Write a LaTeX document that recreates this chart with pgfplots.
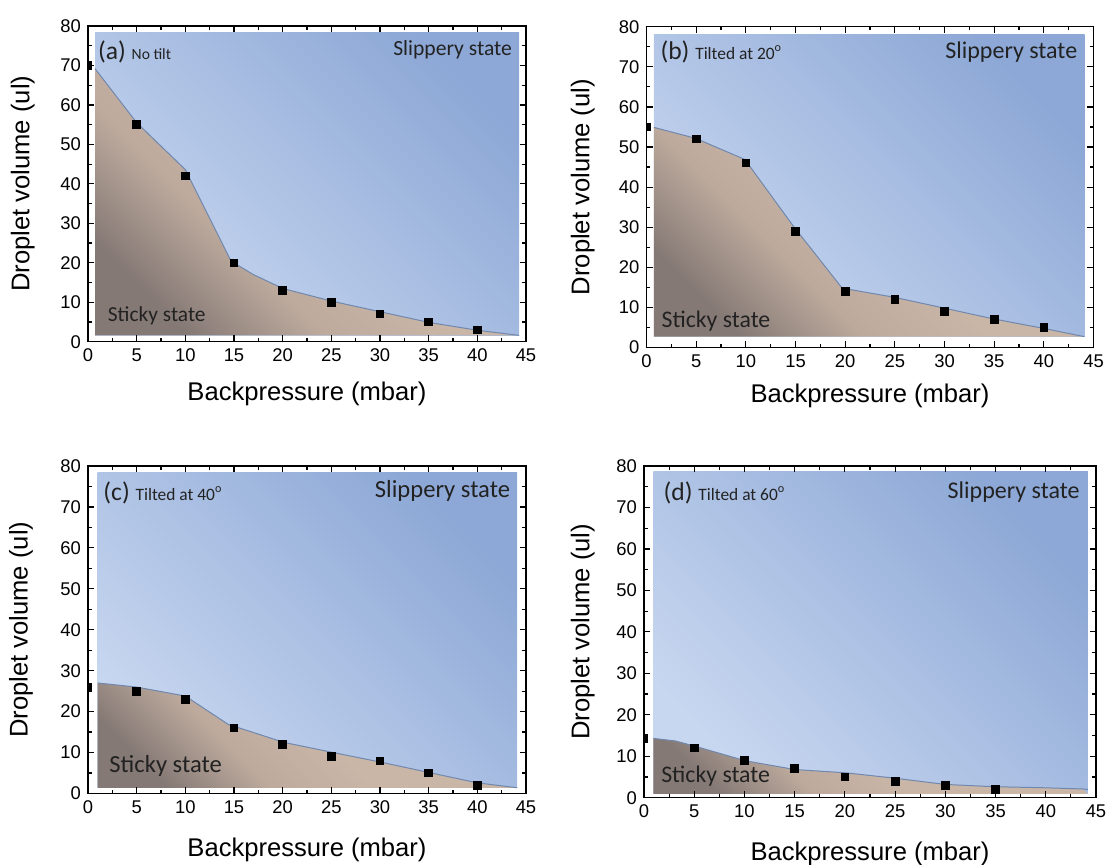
\documentclass[border=0pt]{standalone}
\usepackage{fontspec}
\setmainfont{Liberation Sans}
\newfontfamily\calib{Carlito}
\usepackage{pgfplots}
\pgfplotsset{compat=1.18}
\definecolor{bluelight}{HTML}{C8D7F0}
\definecolor{bluedark}{HTML}{8DA8D6}
\definecolor{tanc}{HTML}{CAB6A7}
\definecolor{tanmid}{HTML}{BDAA9D}
\definecolor{darkbrown}{HTML}{857975}
\definecolor{edgec}{HTML}{7088AE}
\definecolor{txt}{HTML}{222222}
\pgfdeclarehorizontalshading{brownsh}{100bp}{color(0bp)=(darkbrown); color(24bp)=(darkbrown); color(38bp)=(tanmid); color(52bp)=(tanc); color(100bp)=(tanc)}
\pgfplotsset{panel/.style={
  scale only axis, anchor=south west,
  xmin=0,xmax=45,ymin=0,ymax=80,
  xtick={0,5,...,45}, ytick={0,10,...,80},
  minor x tick num=1, minor y tick num=1,
  tick align=inside,
  axis line style={line width=0.7pt},
  major tick length=3.2pt, minor tick length=1.8pt,
  every tick/.append style={line width=0.6pt, black},
  tick label style={font=\fontsize{9.2}{11}\selectfont},
  /pgf/number format/assume math mode=true,
  xlabel={Backpressure (mbar)}, ylabel={Droplet volume (ul)},
  label style={font=\fontsize{12.8}{15}\selectfont, inner sep=0pt},
  clip marker paths=true,
  axis on top,
},
bluebg/.style={draw=none, top color=bluedark, bottom color=bluelight, shading angle=-45},
brownbg/.style={draw=none, shading=brownsh, shading angle=45},
edgeline/.style={edgec, line width=0.5pt, no marks},
pts/.style={only marks, mark=square*, mark size=1.9pt, black},
}
\begin{document}
\begin{tikzpicture}
\useasboundingbox (0,0) rectangle (554.5pt,432pt);
% (a)
\begin{axis}[panel, at={(44pt,261.15pt)}, width=219pt, height=157.85pt,
  xlabel style={at={(axis description cs:0.5,0)}, anchor=north, yshift=-19.7pt},
  ylabel style={at={(axis description cs:-0.121,0.5)}, anchor=south}]
\addplot[bluebg] coordinates {(0.72,1.6) (44.3,1.6) (44.3,78.3) (0.72,78.3)};
\addplot[brownbg] coordinates {(0.72,1.6) (0.72,69.2) (5,55.5) (10,43.6) (14.7,20.4) (17,17) (20,13.5) (25,10.3) (30,7.6) (35,4.9) (40,2.9) (44.3,1.6)};
\addplot[edgeline] coordinates {(0.72,69.2) (5,55.5) (10,43.6) (14.7,20.4) (17,17) (20,13.5) (25,10.3) (30,7.6) (35,4.9) (40,2.9) (44.3,1.6)};
\addplot[pts] coordinates {(0,70) (5,55) (10,42) (15,20) (20,13) (25,10) (30,7) (35,5) (40,3)};
\node[anchor=west, inner sep=0pt, text=txt] at (axis cs:1,73.5) {{\calib\fontsize{12.8}{15}\selectfont (a) \fontsize{7.8}{9}\selectfont No tilt}};
\node[anchor=east, inner sep=0pt, text=txt] at (axis cs:43.6,73.9) {\calib\fontsize{10.8}{12}\selectfont Slippery state};
\node[anchor=west, inner sep=0pt, text=txt] at (axis cs:2.0,6.6) {\calib\fontsize{10.7}{12}\selectfont Sticky state};
\end{axis}
% (b)
\begin{axis}[panel, at={(323.25pt,258.25pt)}, width=223.5pt, height=160.4pt,
  xlabel style={at={(axis description cs:0.5,0)}, anchor=north, yshift=-18pt},
  ylabel style={at={(axis description cs:-0.115,0.5)}, anchor=south}]
\addplot[bluebg] coordinates {(0.74,2.7) (44.1,2.7) (44.1,78.1) (0.74,78.1)};
\addplot[brownbg] coordinates {(0.74,2.7) (0.74,54.9) (4.9,52.2) (9.9,46.9) (14.8,30.2) (19.7,14.8) (25,12.5) (30,9.8) (35,7.1) (39.9,4.8) (44.1,2.7)};
\addplot[edgeline] coordinates {(0.74,54.9) (4.9,52.2) (9.9,46.9) (14.8,30.2) (19.7,14.8) (25,12.5) (30,9.8) (35,7.1) (39.9,4.8) (44.1,2.7)};
\addplot[pts] coordinates {(0,55) (5,52) (10,46) (15,29) (20,14) (25,12) (30,9) (35,7) (40,5)};
\node[anchor=west, inner sep=0pt, text=txt] at (axis cs:1.37,73.8) {{\calib\fontsize{12.8}{15}\selectfont (b) \fontsize{8.7}{10}\selectfont Tilted at 20\textsuperscript{o}}};
\node[anchor=east, inner sep=0pt, text=txt] at (axis cs:43.4,73.6) {\calib\fontsize{12}{14}\selectfont Slippery state};
\node[anchor=west, inner sep=0pt, text=txt] at (axis cs:1.48,6.6) {\calib\fontsize{11.9}{14}\selectfont Sticky state};
\end{axis}
% (c)
\begin{axis}[panel, at={(44pt,35.25pt)}, width=219pt, height=163.75pt,
  xlabel style={at={(axis description cs:0.5,0)}, anchor=north, yshift=-22pt},
  ylabel style={at={(axis description cs:-0.125,0.5)}, anchor=south}]
\addplot[bluebg] coordinates {(1.0,1.4) (44.1,1.4) (44.1,78.5) (1.0,78.5)};
\addplot[brownbg] coordinates {(1.0,1.4) (1.0,27.0) (5,26.0) (10,23.8) (14.4,16.9) (20.1,12.5) (25,10.1) (30,7.7) (34.9,5.2) (40,2.6) (44.1,1.4)};
\addplot[edgeline] coordinates {(1.0,27.0) (5,26.0) (10,23.8) (14.4,16.9) (20.1,12.5) (25,10.1) (30,7.7) (34.9,5.2) (40,2.6) (44.1,1.4)};
\addplot[pts] coordinates {(0,26) (5,25) (10,23) (15,16) (20,12) (25,9) (30,8) (35,5) (40,2)};
\node[anchor=west, inner sep=0pt, text=txt] at (axis cs:1.55,73.5) {{\calib\fontsize{12.8}{15}\selectfont (c) \fontsize{8.7}{10}\selectfont Tilted at 40\textsuperscript{o}}};
\node[anchor=east, inner sep=0pt, text=txt] at (axis cs:43.4,73.8) {\calib\fontsize{12.3}{14}\selectfont Slippery state};
\node[anchor=west, inner sep=0pt, text=txt] at (axis cs:2.16,6.7) {\calib\fontsize{12.3}{14}\selectfont Sticky state};
\end{axis}
% (d)
\begin{axis}[panel, at={(322pt,33.15pt)}, width=226pt, height=165.85pt,
  xlabel style={at={(axis description cs:0.5,0)}, anchor=north, yshift=-21.8pt},
  ylabel style={at={(axis description cs:-0.108,0.5)}, anchor=south}]
\addplot[bluebg] coordinates {(0.94,0.9) (44.2,0.9) (44.2,78.6) (0.94,78.6)};
\addplot[brownbg] coordinates {(0.94,0.9) (0.94,14.3) (3.1,13.7) (5.1,12.4) (10.1,8.9) (15,6.8) (20.1,6.0) (25,4.7) (30,3.2) (34.9,2.65) (39.8,2.4) (43.7,2.1) (44.2,0.9)};
\addplot[edgeline] coordinates {(0.94,14.3) (3.1,13.7) (5.1,12.4) (10.1,8.9) (15,6.8) (20.1,6.0) (25,4.7) (30,3.2) (34.9,2.65) (39.8,2.4) (43.7,2.1) (44.2,2.0)};
\addplot[pts] coordinates {(0,14.3) (5,12) (10,9) (15,7) (20,5) (25,4) (30,3) (35,2)};
\node[anchor=west, inner sep=0pt, text=txt] at (axis cs:1.92,73.6) {{\calib\fontsize{12.8}{15}\selectfont (d) \fontsize{8.7}{10}\selectfont Tilted at 60\textsuperscript{o}}};
\node[anchor=east, inner sep=0pt, text=txt] at (axis cs:43.4,73.8) {\calib\fontsize{12}{14}\selectfont Slippery state};
\node[anchor=west, inner sep=0pt, text=txt] at (axis cs:1.68,5.1) {\calib\fontsize{11.9}{14}\selectfont Sticky state};
\end{axis}
\end{tikzpicture}
\end{document}
